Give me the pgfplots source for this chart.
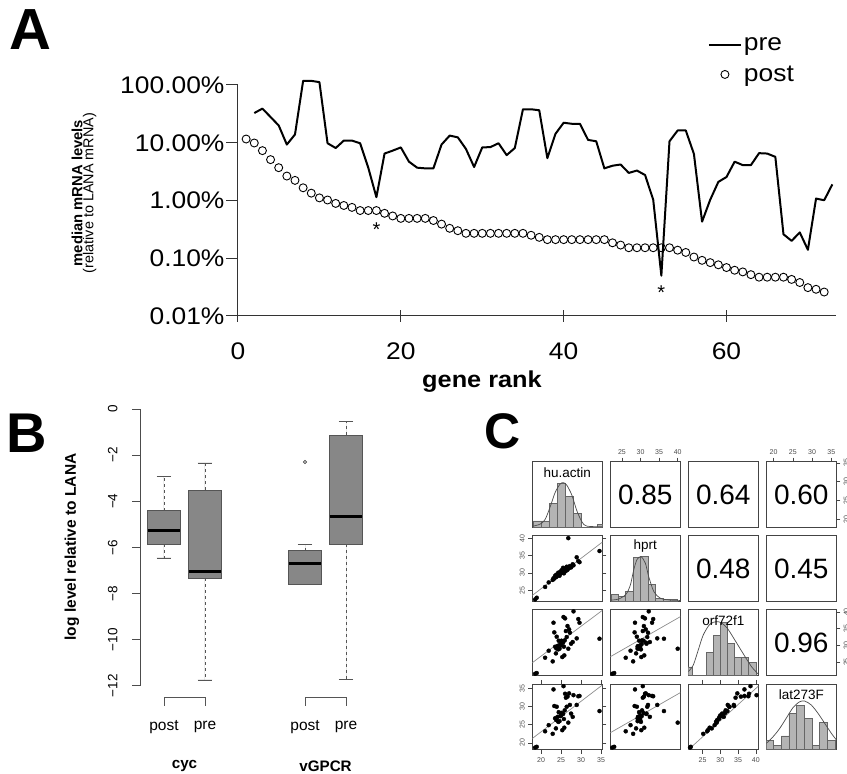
\documentclass[border=0pt]{standalone}
\usepackage{fontspec}
\setmainfont{Liberation Sans}
\newfontfamily\widesans[FakeStretch=1.1]{Liberation Sans}
\usepackage{pgfplots}
\usepackage{pgfplotstable}
\usepgfplotslibrary{statistics}
\pgfplotsset{compat=1.18}

\definecolor{boxgray}{HTML}{878787}
\definecolor{boxedge}{HTML}{555555}
\definecolor{histgray}{HTML}{B4B4B4}
\definecolor{framegray}{HTML}{444444}

% pairs data (C): one row per sample
\pgfplotstableread{
hu hprt orf lat
18.5 22.4 21.5 18.7
18.9 22.9 21.7 18.9
21.0 26.0 26.3 23.2
21.9 27.3 28.4 24.9
22.9 28.0 25.2 22.5
23.1 28.5 36.8 34.8
23.3 28.4 33.9 30.2
23.5 29.2 29.6 26.8
23.7 28.8 27.6 24.0
23.8 29.5 29.1 26.3
23.9 29.0 32.6 30.0
24.1 29.3 29.8 27.2
24.3 30.1 28.8 25.8
24.4 29.6 31.4 28.5
24.6 29.2 29.0 26.0
24.8 30.3 30.4 27.4
25.0 29.9 30.0 27.6
25.1 30.8 31.4 28.3
25.3 30.2 26.5 23.5
25.5 31.5 30.8 28.0
25.6 30.6 38.5 35.7
25.7 29.9 29.6 26.6
25.8 31.0 27.0 24.2
25.9 30.4 31.5 29.0
26.0 31.2 38.1 33.6
26.2 30.6 34.3 32.5
26.4 31.8 32.5 30.0
26.6 30.9 35.8 32.8
26.8 40.0 29.0 25.6
27.0 31.4 34.8 33.7
27.2 32.0 33.8 30.5
27.5 31.6 30.5 28.1
27.9 32.5 31.0 27.2
28.1 32.2 40.2 33.2
28.9 34.5 32.1 30.5
29.3 33.4 37.9 32.9
29.6 33.1 36.8 33.0
34.6 36.3 32.0 28.8
}\pairsdata

\pgfplotsset{
  pairpanel/.style={
    scale only axis, width=70pt, height=65.7pt, anchor=south west,
    axis line style={framegray, line width=0.8pt},
    xtick=\empty, ytick=\empty,
    tick align=outside, major tick length=4pt,
    tick style={framegray, line width=0.6pt},
    tick label style={font=\fontsize{7}{8}\selectfont, text=black!70},
    /pgf/number format/assume math mode=true,
  },
  xhu/.style={xmin=17.8,xmax=35.3}, yhu/.style={ymin=17.8,ymax=35.3},
  xhprt/.style={xmin=21.85,xmax=40.7}, yhprt/.style={ymin=21.85,ymax=40.7},
  xorf/.style={xmin=21.0,xmax=40.7}, yorf/.style={ymin=21.0,ymax=40.7},
  xlat/.style={xmin=18.1,xmax=36.3}, ylat/.style={ymin=18.1,ymax=36.3},
  unity/.style={ymin=0,ymax=1},
  pts/.style={only marks, mark=*, mark size=2pt, black},
  fitline/.style={black!45, line width=0.7pt},
  histbars/.style={ybar interval, fill=histgray, draw=black!60, line width=0.6pt},
  dens/.style={smooth, black!70, line width=0.7pt},
  leftlab/.style={yticklabel style={rotate=90, anchor=south}},
  rightlab/.style={ytick pos=right, yticklabel pos=right, yticklabel style={rotate=90, anchor=north}},
  toplab/.style={xtick pos=right, xticklabel pos=right},
  boxplot/draw/lower whisker/.code={
    \draw[boxedge, line width=0.8pt, dash pattern=on 3pt off 3pt]
      (boxplot box cs:\pgfplotsboxplotvalue{lower quartile},0.5) -- (boxplot box cs:\pgfplotsboxplotvalue{lower whisker},0.5);
    \draw[boxedge, line width=0.8pt]
      (boxplot whisker cs:\pgfplotsboxplotvalue{lower whisker},0) -- (boxplot whisker cs:\pgfplotsboxplotvalue{lower whisker},1);
  },
  boxplot/draw/upper whisker/.code={
    \draw[boxedge, line width=0.8pt, dash pattern=on 3pt off 3pt]
      (boxplot box cs:\pgfplotsboxplotvalue{upper quartile},0.5) -- (boxplot box cs:\pgfplotsboxplotvalue{upper whisker},0.5);
    \draw[boxedge, line width=0.8pt]
      (boxplot whisker cs:\pgfplotsboxplotvalue{upper whisker},0) -- (boxplot whisker cs:\pgfplotsboxplotvalue{upper whisker},1);
  },
  boxplot/every median/.style={black, line width=3pt},
}

\newcommand{\fA}{\widesans\fontsize{24}{28}\selectfont}
\newcommand{\numfont}{\fontsize{28}{30}\selectfont}
\newcommand{\varfont}{\fontsize{13.5}{15}\selectfont}

\begin{document}
\begin{tikzpicture}[x=1pt,y=1pt]
\path[use as bounding box] (0,0) rectangle (847,774);

% panel letters
\node[font=\bfseries\fontsize{58}{60}\selectfont, inner sep=0pt] at (30,744) {A};
\node[font=\bfseries\fontsize{56}{58}\selectfont, inner sep=0pt] at (26.5,341) {B};
\node[font=\bfseries\fontsize{50}{52}\selectfont, inner sep=0pt] at (503,342.5) {C};

%% ---------------- A ----------------
\node[rotate=90, align=center, inner sep=0pt] at (84,581)
  {{\bfseries\fontsize{14.8}{18}\selectfont median mRNA levels}\\[-1pt]{\fontsize{14.4}{18}\selectfont (relative to LANA mRNA)}};
\node[font=\widesans\bfseries\fontsize{23}{27}\selectfont] at (482,392) {gene rank};

\begin{axis}[
  at={(238pt,458pt)}, anchor=south west, scale only axis,
  width=598.4pt, height=231pt,
  xmin=0, xmax=73.5, ymin=0.01, ymax=100, ymode=log,
  axis x line=bottom, axis y line=left,
  axis line style={-, black!80, line width=1pt},
  xtick={0,20,40,60},
  ytick={0.01,0.1,1,10,100},
  yticklabels={0.01\%,0.10\%,1.00\%,10.00\%,100.00\%},
  minor y tick style={draw=none},
  tick align=center, major tick length=12pt,
  tick style={black!80, line width=1pt},
  ytick style={xshift=-6pt},
  tick label style={font=\fA},
  /pgf/number format/assume math mode=true,
  xticklabel shift=17pt, yticklabel shift=4pt,
  clip=false,
  legend style={draw=none, fill=none, at={(0.785,1.215)}, anchor=north west,
    font=\fA, row sep=10pt, inner sep=0pt},
  legend cell align=left,
  legend image code/.code={\draw[mark repeat=2,mark phase=2,#1] plot coordinates {(0pt,0pt) (16pt,0pt) (32pt,0pt)};},
]
\addplot[black, line width=2pt, line join=round] coordinates {
(2,32.7) (3,39) (4,27.9) (5,19.9) (6,9.3) (7,13.9) (8,118) (9,118) (10,112)
(11,9.8) (12,8.1) (13,10.9) (14,10.9) (15,9.8) (16,3.7) (17,1.14) (18,6.5)
(19,7.3) (20,8.3) (21,4.7) (22,3.7) (23,3.6) (24,3.6) (25,9.3) (26,13.3)
(27,12.4) (28,7.8) (29,3.8) (30,8.3) (31,8.4) (32,9.8) (33,6.1) (34,8.1)
(35,38) (36,38) (37,36.5) (38,5.4) (39,14.3) (40,22.2) (41,21.3) (42,21.3)
(43,11.2) (44,10.6) (45,3.6) (46,4.0) (47,4.2) (48,3.0) (49,3.3) (50,2.76)
(51,1.03) (52,0.050) (53,10.6) (54,16.3) (55,16.3) (56,6.4) (57,0.43)
(58,1.03) (59,2.1) (60,2.55) (61,4.7) (62,4.1) (63,4.1) (64,6.6) (65,6.5)
(66,5.7) (67,0.26) (68,0.20) (69,0.28) (70,0.14) (71,1.08) (72,1.01) (73,1.9)
};
\addlegendentry{pre}
\addplot[only marks, mark=o, mark size=4pt, mark options={black, line width=0.9pt}] coordinates {
(1,11.6) (2,9.9) (3,7.3) (4,5.1) (5,3.7) (6,2.65) (7,2.23) (8,1.66) (9,1.34)
(10,1.11) (11,1.02) (12,0.89) (13,0.82) (14,0.76) (15,0.67) (16,0.67) (17,0.67)
(18,0.60) (19,0.54) (20,0.49) (21,0.49) (22,0.49) (23,0.49) (24,0.45) (25,0.39)
(26,0.33) (27,0.30) (28,0.27) (29,0.27) (30,0.27) (31,0.27) (32,0.27) (33,0.27)
(34,0.27) (35,0.27) (36,0.25) (37,0.23) (38,0.21) (39,0.21) (40,0.21) (41,0.21)
(42,0.21) (43,0.21) (44,0.21) (45,0.21) (46,0.185) (47,0.169) (48,0.152)
(49,0.152) (50,0.152) (51,0.152) (52,0.152) (53,0.152) (54,0.138) (55,0.126)
(56,0.105) (57,0.092) (58,0.084) (59,0.077) (60,0.069) (61,0.062) (62,0.058)
(63,0.052) (64,0.047) (65,0.047) (66,0.047) (67,0.047) (68,0.043) (69,0.038)
(70,0.031) (71,0.029) (72,0.026)
};
\addlegendentry{post}
\node[font=\fontsize{20}{20}\selectfont, yshift=-4.4pt] at (axis cs:17,0.368) {*};
\node[font=\fontsize{20}{20}\selectfont, yshift=-4.4pt] at (axis cs:52,0.030) {*};
\end{axis}

%% ---------------- B ----------------
\node[rotate=90, font=\bfseries\fontsize{15.5}{18}\selectfont] at (72,227) {log level relative to LANA};

\begin{axis}[
  at={(140pt,88.3pt)}, anchor=south west, scale only axis,
  width=249.5pt, height=276.7pt,
  xmin=0.415, xmax=6.5, ymin=-12, ymax=0,
  axis y line=left, hide x axis,
  axis line style={-, black!70, line width=0.8pt},
  ytick={-12,-10,-8,-6,-4,-2,0},
  yticklabels={−12,−10,−8,−6,−4,−2,0},
  tick align=outside, major tick length=8pt,
  tick style={black!70, line width=0.8pt},
  yticklabel style={rotate=90, anchor=south, font=\fontsize{13.5}{15}\selectfont},
  yticklabel shift=11pt,
  boxplot/draw direction=y,
  clip=false,
]
\addplot[fill=boxgray, draw=boxedge, line width=0.8pt,
  boxplot prepared={draw position=1, median=-5.29, upper quartile=-4.41,
    lower quartile=-5.87, upper whisker=-2.93, lower whisker=-6.46,
    box extend=0.8, whisker extend=0.35}] coordinates {};
\addplot[fill=boxgray, draw=boxedge, line width=0.8pt,
  boxplot prepared={draw position=2, median=-7.06, upper quartile=-3.53,
    lower quartile=-7.34, upper whisker=-2.34, lower whisker=-11.75,
    box extend=0.8, whisker extend=0.35}] coordinates {};
\addplot[fill=boxgray, draw=boxedge, line width=0.8pt,
  boxplot prepared={draw position=4.44, median=-6.72, upper quartile=-6.14,
    lower quartile=-7.59, upper whisker=-5.86, lower whisker=-7.59,
    box extend=0.8, whisker extend=0.35}] coordinates {};
\addplot[fill=boxgray, draw=boxedge, line width=0.8pt,
  boxplot prepared={draw position=5.44, median=-4.67, upper quartile=-1.13,
    lower quartile=-5.86, upper whisker=-0.55, lower whisker=-11.72,
    box extend=0.8, whisker extend=0.35}] coordinates {};
\addplot[only marks, mark=o, mark size=1.6pt, mark options={black!75, line width=0.7pt}] coordinates {(4.44,-2.30)};
% group brackets and labels
\draw[boxedge, line width=0.8pt] (axis cs:1,-12.88) -- (axis cs:1,-12.52) -- (axis cs:2,-12.52) -- (axis cs:2,-12.88);
\draw[boxedge, line width=0.8pt] (axis cs:4.44,-12.88) -- (axis cs:4.44,-12.52) -- (axis cs:5.44,-12.52) -- (axis cs:5.44,-12.88);
\node[font=\fontsize{15.5}{18}\selectfont] at (axis cs:1,-13.79) {post};
\node[font=\fontsize{15.5}{18}\selectfont] at (axis cs:2,-13.79) {pre};
\node[font=\fontsize{15.5}{18}\selectfont] at (axis cs:4.44,-13.79) {post};
\node[font=\fontsize{15.5}{18}\selectfont] at (axis cs:5.44,-13.79) {pre};
\node[font=\bfseries\fontsize{15.2}{18}\selectfont] at (axis cs:1.5,-15.48) {cyc};
\node[font=\bfseries\fontsize{15.2}{18}\selectfont] at (axis cs:4.94,-15.48) {vGPCR};
\end{axis}

%% ---------------- C ----------------
% row 1
\begin{axis}[pairpanel, at={(532.3pt,246.6pt)}, xhu, unity]
\addplot[histbars] coordinates {(18,0.10) (20,0.10) (22,0.365) (24,0.67) (26,0.467) (28,0.213) (30,0) (32,0) (34,0.05) (36,0)};
\addplot[dens] coordinates {(18.08,0.02) (19.75,0.05) (21.0,0.12) (22.25,0.31) (23.5,0.53) (24.75,0.66) (25.6,0.68) (26.4,0.645) (27.7,0.49) (28.9,0.26) (30.2,0.086) (31.4,0.02) (35.3,0.01)};
\node[font=\varfont] at (rel axis cs:0.5,0.833) {hu.actin};
\end{axis}
\begin{axis}[pairpanel, at={(610.3pt,246.6pt)}, xhprt, unity, xtick={25,30,35,40}, toplab]
\node[font=\numfont] at (rel axis cs:0.5,0.5) {0.85};
\end{axis}
\begin{axis}[pairpanel, at={(688.3pt,246.6pt)}, xmin=0, xmax=1, unity]
\node[font=\numfont] at (rel axis cs:0.5,0.5) {0.64};
\end{axis}
\begin{axis}[pairpanel, at={(766.3pt,246.6pt)}, xlat, yhu, xtick={20,25,30,35}, toplab, ytick={20,25,30,35}, rightlab]
\node[font=\numfont] at (rel axis cs:0.5,0.5) {0.60};
\end{axis}
% row 2
\begin{axis}[pairpanel, at={(532.3pt,172.6pt)}, xhu, yhprt, ytick={25,30,35,40}, leftlab]
\addplot[fitline] coordinates {(17.8,23.57) (35.3,38.85)};
\addplot[pts] table[x=hu, y=hprt] {\pairsdata};
\end{axis}
\begin{axis}[pairpanel, at={(610.3pt,172.6pt)}, xhprt, unity]
\addplot[histbars] coordinates {(22,0.11) (24,0.07) (26,0.157) (28,0.665) (30,0.68) (32,0.26) (34,0.046) (36,0.036) (38,0.036) (40,0)};
\addplot[dens] coordinates {(21.93,0.02) (24.1,0.036) (26.1,0.11) (27.26,0.25) (28.16,0.48) (29.07,0.64) (30.15,0.68) (31.3,0.58) (32.2,0.376) (33.6,0.147) (35.4,0.046) (38.1,0.02) (40.7,0.015)};
\node[font=\varfont] at (rel axis cs:0.5,0.85) {hprt};
\end{axis}
\begin{axis}[pairpanel, at={(688.3pt,172.6pt)}, xmin=0, xmax=1, unity]
\node[font=\numfont] at (rel axis cs:0.5,0.5) {0.48};
\end{axis}
\begin{axis}[pairpanel, at={(766.3pt,172.6pt)}, xmin=0, xmax=1, unity]
\node[font=\numfont] at (rel axis cs:0.5,0.5) {0.45};
\end{axis}
% row 3
\begin{axis}[pairpanel, at={(532.3pt,98.6pt)}, xhu, yorf]
\addplot[fitline] coordinates {(17.8,24.8) (35.3,40.5)};
\addplot[pts] table[x=hu, y=orf] {\pairsdata};
\end{axis}
\begin{axis}[pairpanel, at={(610.3pt,98.6pt)}, xhprt, yorf]
\addplot[fitline] coordinates {(21.85,26.6) (40.7,38.6)};
\addplot[pts] table[x=hprt, y=orf] {\pairsdata};
\end{axis}
\begin{axis}[pairpanel, at={(688.3pt,98.6pt)}, xorf, unity]
\addplot[histbars] coordinates {(20,0.13) (22,0) (24,0) (26,0.35) (28,0.61) (30,0.81) (32,0.49) (34,0.27) (36,0.27) (38,0.2) (40,0)};
\addplot[dens] coordinates {(20.97,0.056) (22.4,0.157) (23.8,0.386) (25.2,0.614) (27.1,0.78) (28.9,0.817) (30.3,0.80) (32.0,0.716) (34.1,0.538) (36.4,0.335) (38.8,0.132) (40.7,0.02)};
\node[font=\varfont] at (rel axis cs:0.5,0.83) {orf72f1};
\end{axis}
\begin{axis}[pairpanel, at={(766.3pt,98.6pt)}, xmin=0, xmax=1, yorf, ytick={25,30,35,40}, rightlab]
\node[font=\numfont] at (rel axis cs:0.5,0.5) {0.96};
\end{axis}
% row 4
\begin{axis}[pairpanel, at={(532.3pt,24.3pt)}, xhu, ylat, xtick={20,25,30,35}, ytick={20,25,30,35}, leftlab]
\addplot[fitline] coordinates {(17.8,21.2) (35.3,36.0)};
\addplot[pts] table[x=hu, y=lat] {\pairsdata};
\end{axis}
\begin{axis}[pairpanel, at={(610.3pt,24.3pt)}, xhprt, ylat]
\addplot[fitline] coordinates {(21.85,22.8) (40.7,33.9)};
\addplot[pts] table[x=hprt, y=lat] {\pairsdata};
\end{axis}
\begin{axis}[pairpanel, at={(688.3pt,24.3pt)}, xorf, ylat, xtick={25,30,35,40}]
\addplot[fitline] coordinates {(21.0,18.06) (40.7,35.7)};
\addplot[pts] table[x=orf, y=lat] {\pairsdata};
\end{axis}
\begin{axis}[pairpanel, at={(766.3pt,24.3pt)}, xlat, unity]
\addplot[histbars] coordinates {(18,0.137) (20,0.066) (22,0.21) (24,0.553) (26,0.67) (28,0.477) (30,0.066) (32,0.41) (34,0.147) (36,0)};
\addplot[dens] coordinates {(18.1,0.096) (19.9,0.2) (21.6,0.325) (23.4,0.49) (25.1,0.645) (26.8,0.73) (28.1,0.74) (29.8,0.68) (31.55,0.553) (33.3,0.40) (35.0,0.25) (36.3,0.15)};
\node[font=\varfont] at (rel axis cs:0.5,0.83) {lat273F};
\end{axis}

\end{tikzpicture}
\end{document}
